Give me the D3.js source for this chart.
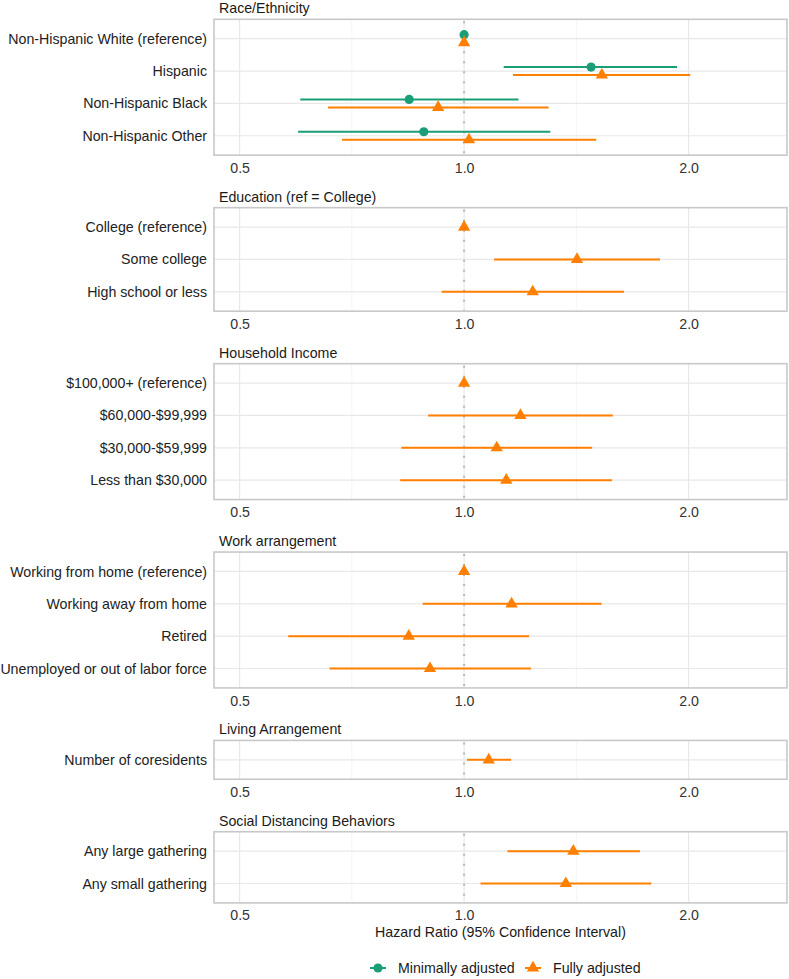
<!DOCTYPE html>
<html>
<head>
<meta charset="utf-8">
<script src="https://cdn.jsdelivr.net/npm/d3@7"></script>
<style>
  body { margin: 0; background: #fff; }
  text { font-family: "Liberation Sans", Arial, sans-serif; }
</style>
</head>
<body>
<svg id="chart"></svg>
<script>
// facet titles
const groupNames = [
  "Race/Ethnicity",
  "Education (ref = College)",
  "Household Income",
  "Work arrangement",
  "Living Arrangement",
  "Social Distancing Behaviors"
];

// which facet each term belongs to
const termGroup = [0, 0, 0, 0, 1, 1, 1, 2, 2, 2, 2, 3, 3, 3, 3, 4, 5, 5];

const termLabels = [
  "Non-Hispanic White (reference)", "Hispanic", "Non-Hispanic Black", "Non-Hispanic Other",
  "College (reference)", "Some college", "High school or less",
  "$100,000+ (reference)", "$60,000-$99,999", "$30,000-$59,999", "Less than $30,000",
  "Working from home (reference)", "Working away from home", "Retired", "Unemployed or out of labor force",
  "Number of coresidents",
  "Any large gathering", "Any small gathering"
];

// minimally adjusted model (race/ethnicity only)
const minEst = [1.00, 1.48, 0.844, 0.883, null, null, null, null, null, null, null, null, null, null, null, null, null, null];
const minLo  = [1.00, 1.13, 0.603, 0.599, null, null, null, null, null, null, null, null, null, null, null, null, null, null];
const minHi  = [1.00, 1.93, 1.183, 1.305, null, null, null, null, null, null, null, null, null, null, null, null, null, null];

// fully adjusted model
const fullEst = [1.00, 1.53, 0.923, 1.015, 1.00, 1.417, 1.236, 1.00, 1.190, 1.106, 1.139, 1.00, 1.158, 0.843, 0.900, 1.079, 1.401, 1.369];
const fullLo  = [1.00, 1.163, 0.657, 0.686, 1.00, 1.097, 0.933, 1.00, 0.895, 0.824, 0.821, 1.00, 0.880, 0.581, 0.660, 1.009, 1.143, 1.052];
const fullHi  = [1.00, 2.01, 1.298, 1.504, 1.00, 1.831, 1.638, 1.00, 1.583, 1.485, 1.578, 1.00, 1.529, 1.222, 1.229, 1.156, 1.721, 1.782];

const xTicks = [0.5, 1.0, 2.0];
const xMinor = [Math.SQRT1_2, Math.SQRT2];

const seriesNames = ["Minimally adjusted", "Fully adjusted"];
const seriesColors = ["#1b9e77", "#ff7f00"];

// ---- layout ----
const width = 789, height = 979;
const panelLeft = 214, panelRight = 787;
const unit = 32.35;      // px per row
const gap = 52.5;        // panel bottom -> next panel top
const firstTop = 19.3;
const dodge = 4;
const fontSize = "14.2px";

const svg = d3.select("#chart")
    .attr("width", width)
    .attr("height", height);

const x = d3.scaleLog()
    .domain([0.462, 2.71])
    .range([panelLeft, panelRight]);

const triangle = d3.symbol().type(d3.symbolTriangle).size(66);

let panelTop = firstTop;
let lastBottom = 0;

groupNames.forEach((gName, g) => {
  const rows = d3.range(termLabels.length).filter(i => termGroup[i] === g);
  const h = unit * (rows.length + 0.2);
  const t = panelTop;

  const y = d3.scalePoint()
      .domain(rows)
      .range([t, t + h])
      .padding(0.6);

  const panel = svg.append("g").attr("class", "panel");

  // facet title
  panel.append("text")
      .attr("x", panelLeft + 5)
      .attr("y", t - 11)
      .attr("dy", "0.35em")
      .attr("font-size", fontSize)
      .attr("fill", "#1a1a1a")
      .text(gName);

  // grid
  panel.selectAll(".minor")
    .data(xMinor)
    .join("line")
      .attr("x1", d => x(d)).attr("x2", d => x(d))
      .attr("y1", t).attr("y2", t + h)
      .attr("stroke", "#f2f2f2")
      .attr("stroke-width", 0.8);

  panel.selectAll(".major")
    .data(xTicks)
    .join("line")
      .attr("x1", d => x(d)).attr("x2", d => x(d))
      .attr("y1", t).attr("y2", t + h)
      .attr("stroke", "#e8e8e8")
      .attr("stroke-width", 1.2);

  panel.selectAll(".hgrid")
    .data(rows)
    .join("line")
      .attr("x1", panelLeft).attr("x2", panelRight)
      .attr("y1", d => y(d)).attr("y2", d => y(d))
      .attr("stroke", "#e8e8e8")
      .attr("stroke-width", 1.2);

  // reference line at 1
  panel.append("line")
      .attr("x1", x(1)).attr("x2", x(1))
      .attr("y1", t + 2).attr("y2", t + h)
      .attr("stroke", "#b8b8b8")
      .attr("stroke-width", 2)
      .attr("stroke-dasharray", "2 8");

  // estimates
  rows.forEach(i => {
    const both = minEst[i] != null;
    const yMin = y(i) - (both ? dodge : 0);
    const yFull = y(i) + (both ? dodge : 0);

    if (both) {
      if (minHi[i] > minLo[i]) {
        panel.append("line")
            .attr("x1", x(minLo[i])).attr("x2", x(minHi[i]))
            .attr("y1", yMin).attr("y2", yMin)
            .attr("stroke", seriesColors[0])
            .attr("stroke-width", 2);
      }
      panel.append("circle")
          .attr("cx", x(minEst[i])).attr("cy", yMin)
          .attr("r", 4.6)
          .attr("fill", seriesColors[0]);
    }
    if (fullHi[i] > fullLo[i]) {
      panel.append("line")
          .attr("x1", x(fullLo[i])).attr("x2", x(fullHi[i]))
          .attr("y1", yFull).attr("y2", yFull)
          .attr("stroke", seriesColors[1])
          .attr("stroke-width", 2);
    }
    panel.append("path")
        .attr("d", triangle)
        .attr("transform", `translate(${x(fullEst[i])},${yFull})`)
        .attr("fill", seriesColors[1]);
  });

  // border
  panel.append("rect")
      .attr("x", panelLeft).attr("y", t)
      .attr("width", panelRight - panelLeft).attr("height", h)
      .attr("fill", "none")
      .attr("stroke", "#c8c8c8")
      .attr("stroke-width", 1.6);

  // axes
  const yAxis = d3.axisLeft(y)
      .tickSize(0)
      .tickPadding(7)
      .tickFormat(i => termLabels[i]);

  panel.append("g")
      .attr("transform", `translate(${panelLeft},0)`)
      .call(yAxis)
      .call(a => a.select(".domain").remove())
      .selectAll("text")
      .attr("font-size", fontSize)
      .attr("font-family", "Liberation Sans, Arial, sans-serif")
      .attr("fill", "#222");

  const xAxis = d3.axisBottom(x)
      .tickValues(xTicks)
      .tickSize(0)
      .tickPadding(7.5)
      .tickFormat(d3.format(".1f"));

  panel.append("g")
      .attr("transform", `translate(0,${t + h})`)
      .call(xAxis)
      .call(a => a.select(".domain").remove())
      .selectAll("text")
      .attr("font-size", fontSize)
      .attr("font-family", "Liberation Sans, Arial, sans-serif")
      .attr("fill", "#333");

  lastBottom = t + h;
  panelTop = t + h + gap;
});

// x axis title
svg.append("text")
    .attr("x", (panelLeft + panelRight) / 2)
    .attr("y", lastBottom + 29)
    .attr("dy", "0.35em")
    .attr("text-anchor", "middle")
    .attr("font-size", fontSize)
    .attr("fill", "#1a1a1a")
    .text("Hazard Ratio (95% Confidence Interval)");

// legend
const legendY = 968;
const legendItems = [
  {key: 378, text: 398},
  {key: 533, text: 553}
];
const legend = svg.append("g").attr("class", "legend");
legendItems.forEach((it, s) => {
  legend.append("line")
      .attr("x1", it.key - 8).attr("x2", it.key + 8)
      .attr("y1", legendY).attr("y2", legendY)
      .attr("stroke", seriesColors[s])
      .attr("stroke-width", 2);
  if (s === 0) {
    legend.append("circle")
        .attr("cx", it.key).attr("cy", legendY)
        .attr("r", 4.6)
        .attr("fill", seriesColors[s]);
  } else {
    legend.append("path")
        .attr("d", triangle)
        .attr("transform", `translate(${it.key},${legendY})`)
        .attr("fill", seriesColors[s]);
  }
  legend.append("text")
      .attr("x", it.text)
      .attr("y", legendY)
      .attr("dy", "0.35em")
      .attr("font-size", fontSize)
      .attr("fill", "#1a1a1a")
      .text(seriesNames[s]);
});
</script>
</body>
</html>
